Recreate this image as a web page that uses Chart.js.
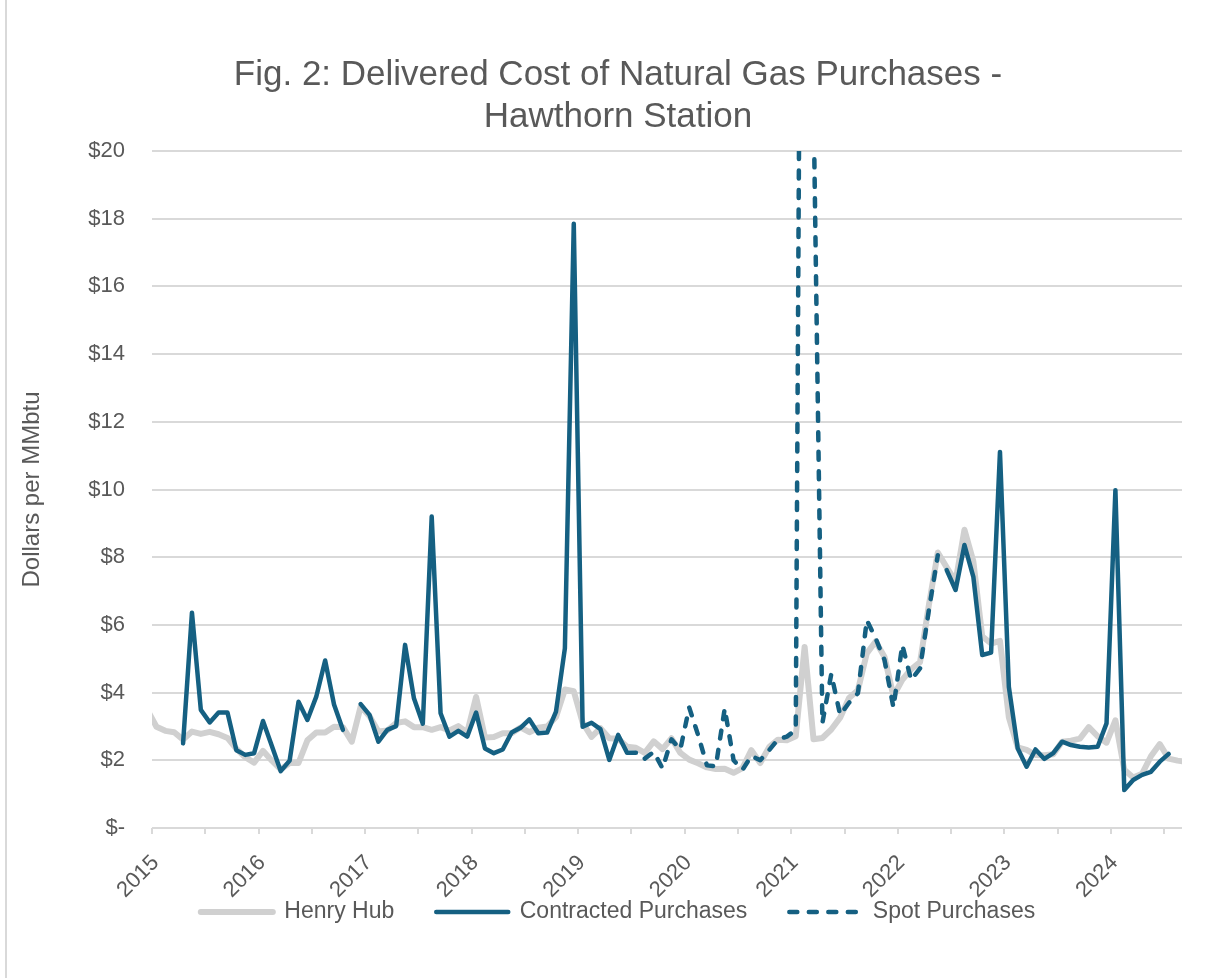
<!DOCTYPE html>
<html>
<head>
<meta charset="utf-8">
<title>Fig. 2: Delivered Cost of Natural Gas Purchases - Hawthorn Station</title>
<script src="https://cdn.jsdelivr.net/npm/chart.js@4.4.1/dist/chart.umd.min.js"></script>
<style>
    html, body { margin: 0; padding: 0; background: #fff; }
    #frame { position: relative; width: 1220px; height: 978px; }
    #frame::before { content: ''; position: absolute; left: 5px; top: 0; bottom: 0; border-left: 2px solid #d9d9d9; }
    canvas { display: block; }
</style>
</head>
<body>
<div id="frame"><canvas id="gasChart" width="1220" height="978"></canvas></div>
<script>
// ---- data, $/MMbtu, one value per month ----

const yearLabels = ['2015', '2016', '2017', '2018', '2019', '2020', '2021', '2022', '2023', '2024'];
const axisStart = '2015-01';
const axisEnd = '2024-09';

const henryHubFrom = '2014-12';
const henryHub = [
    3.48,
    2.99, 2.87, 2.83, 2.61, 2.85, 2.78, 2.84, 2.77, 2.66, 2.34, 2.09, 1.93, // 2015
    2.28, 1.99, 1.73, 1.92, 1.92, 2.59, 2.82, 2.82, 2.99, 2.98, 2.55, 3.59, // 2016
    3.30, 2.85, 2.88, 3.10, 3.15, 2.98, 2.98, 2.90, 2.98, 2.88, 3.01, 2.82, // 2017
    3.87, 2.67, 2.69, 2.80, 2.80, 2.97, 2.83, 2.96, 3.00, 3.28, 4.09, 4.04, // 2018
    3.11, 2.69, 2.95, 2.65, 2.64, 2.40, 2.37, 2.22, 2.56, 2.33, 2.65, 2.22, // 2019
    2.02, 1.91, 1.79, 1.74, 1.75, 1.63, 1.77, 2.30, 1.92, 2.39, 2.61, 2.59, // 2020
    2.71, 5.35, 2.62, 2.66, 2.91, 3.26, 3.84, 4.07, 5.16, 5.51, 5.05, 3.90, // 2021
    4.38, 4.69, 4.90, 6.60, 8.14, 7.70, 7.28, 8.81, 7.88, 5.66, 5.45, 5.53, // 2022
    3.27, 2.38, 2.31, 2.16, 2.15, 2.18, 2.55, 2.58, 2.64, 2.98, 2.71, 2.52, // 2023
    3.18, 1.72, 1.49, 1.60, 2.12, 2.48, 2.05, 1.99, 1.95                    // 2024
];

const contractedFrom = '2015-04';
const contracted = [
    2.50, 6.36, 3.49, 3.12, 3.41, 3.41, 2.30, 2.16, 2.21,                   // 2015
    3.16, 2.42, 1.68, 1.99, 3.73, 3.19, 3.88, 4.95, 3.65, 2.90, null, 3.66, // 2016
    3.34, 2.55, 2.90, 3.01, 5.41, 3.83, 3.08, 9.20, 3.39, 2.70, 2.87, 2.70, // 2017
    3.41, 2.35, 2.21, 2.32, 2.82, 2.96, 3.21, 2.80, 2.82, 3.44, 5.31, 17.85, // 2018
    2.99, 3.11, 2.92, 2.01, 2.75, 2.22, 2.22, null, null, null, null, null, // 2019
    null, null, null, null, null, null, null, null, null, null, null, null, // 2020
    null, null, null, null, null, null, null, null, null, null, null, null, // 2021
    null, null, null, null, null, 7.62, 7.03, 8.36, 7.42, 5.11, 5.18, 11.11, // 2022
    4.17, 2.35, 1.81, 2.32, 2.04, 2.21, 2.55, 2.45, 2.40, 2.38, 2.40, 3.09, // 2023
    9.98, 1.12, 1.42, 1.57, 1.66, 1.96, 2.19                                // 2024
];

const spotFrom = '2019-08';
const spot = [
    2.05, 2.25, 1.76, 2.62, 2.32,                                           // 2019
    3.56, 2.75, 1.85, 1.82, 3.53, 2.00, 1.72, 2.13, 2.00, 2.30, 2.62, 2.70, // 2020
    2.90, 50.0, 21.5, 3.10, 4.55, 3.34, 3.70, 3.98, 6.14, 5.60, 4.96, 3.56, // 2021
    5.41, 4.37, 4.72, 6.45, 8.06                                            // 2022
];

// ---- look ----

const FONT = "'Liberation Sans', Arial, sans-serif";
const TEXT = '#595959';
const GRID = '#d9d9d9';
const BLUE = '#156082';
const LABEL_SHIFT = 0.4;    // year labels sit a little right of their tick mark
const LEGEND_PADDING = 42;
const LEGEND_FONT = 23;
const LEGEND_TEXT_Y = 912;

function monthIndex(ym) {
    const [y, m] = ym.split('-').map(Number);
    return (y - 2015) * 12 + (m - 1);
}

// every monthly value is plotted in the middle of its month
function toPoints(values, from) {
    const first = monthIndex(from);
    return values.map((v, i) => ({ x: first + i + 0.5, y: v }));
}

// the year labels need a tall axis box (labels are clipped to it),
// so the legend is pulled back up over the bottom of that box
const legendPlacement = {
    id: 'legendPlacement',
    afterLayout(chart) {
        const legend = chart.legend;
        const height = legend.bottom - legend.top;
        legend.top = LEGEND_TEXT_Y - LEGEND_PADDING - LEGEND_FONT / 2;
        legend.bottom = legend.top + height;
    }
};

/**
 * Draws the delivered cost chart into the canvas.
 */
function renderGasChart() {
    const xMin = monthIndex(axisStart);
    const xMax = monthIndex(axisEnd);

    new Chart(document.getElementById('gasChart'), {
        type: 'line',
        data: {
            datasets: [
                {
                    label: 'Henry Hub',
                    data: toPoints(henryHub, henryHubFrom),
                    borderColor: '#d0d0d0',
                    backgroundColor: '#d0d0d0',
                    borderWidth: 6,
                    order: 1
                },
                {
                    label: 'Contracted Purchases',
                    data: toPoints(contracted, contractedFrom),
                    borderColor: BLUE,
                    backgroundColor: BLUE,
                    borderWidth: 4.5,
                    order: 0
                },
                {
                    label: 'Spot Purchases',
                    data: toPoints(spot, spotFrom),
                    borderColor: BLUE,
                    backgroundColor: BLUE,
                    borderWidth: 4.5,
                    borderDash: [8, 11.5],
                    order: 0
                }
            ]
        },
        plugins: [legendPlacement],
        options: {
            responsive: false,
            animation: false,
            layout: { padding: { left: 54, right: 38, top: 0, bottom: 3 } },
            elements: {
                point: { radius: 0, hoverRadius: 0 },
                line: { tension: 0, borderJoinStyle: 'round', borderCapStyle: 'round' }
            },
            datasets: {
                line: { clip: 0, xAxisID: 'x', yAxisID: 'y', spanGaps: false }
            },
            plugins: {
                title: {
                    display: true,
                    text: ['Fig. 2: Delivered Cost of Natural Gas Purchases -', 'Hawthorn Station'],
                    color: TEXT,
                    font: { family: FONT, size: 35, weight: 'normal', lineHeight: 1.2 },
                    padding: { top: 54, bottom: 13 }
                },
                legend: {
                    position: 'bottom',
                    labels: {
                        usePointStyle: true,
                        pointStyle: 'line',
                        pointStyleWidth: 72,
                        padding: LEGEND_PADDING,
                        color: TEXT,
                        font: { family: FONT, size: LEGEND_FONT },
                        sort: (a, b) => a.datasetIndex - b.datasetIndex,
                        // point style hides the dash pattern, put it back from the dataset
                        generateLabels: chart => {
                            const items = Chart.defaults.plugins.legend.labels.generateLabels(chart);
                            return items.map(item => {
                                const ds = chart.data.datasets[item.datasetIndex];
                                item.lineDash = ds.borderDash || [];
                                item.lineCap = 'round';
                                item.lineWidth = ds.borderWidth;
                                return item;
                            });
                        }
                    }
                },
                tooltip: { enabled: false }
            },
            scales: {
                // tick marks every six months, no labels
                x: {
                    type: 'linear',
                    position: 'bottom',
                    min: xMin,
                    max: xMax,
                    weight: 0,
                    afterBuildTicks: scale => {
                        const ticks = [];
                        for (let v = xMin; v < xMax; v += 6) {
                            ticks.push({ value: v });
                        }
                        scale.ticks = ticks;
                    },
                    ticks: { display: false, autoSkip: false },
                    grid: { drawOnChartArea: false, drawTicks: true, tickLength: 6, color: GRID, lineWidth: 2 },
                    border: { display: false },
                    afterFit: scale => { scale.height = 8; }
                },
                // year labels
                xLabels: {
                    type: 'linear',
                    position: 'bottom',
                    min: xMin,
                    max: xMax,
                    weight: 1,
                    afterBuildTicks: scale => {
                        scale.ticks = yearLabels.map((_, i) => ({ value: i * 12 + LABEL_SHIFT }));
                    },
                    ticks: {
                        autoSkip: false,
                        maxRotation: 45,
                        minRotation: 45,
                        padding: 14,
                        color: TEXT,
                        font: { family: FONT, size: 22 },
                        callback: (value, index) => yearLabels[index]
                    },
                    grid: { display: false, drawTicks: false },
                    border: { display: false },
                    afterFit: scale => { scale.height = 64; }
                },
                y: {
                    min: 0,
                    max: 20,
                    ticks: {
                        stepSize: 2,
                        padding: 27,
                        color: TEXT,
                        font: { family: FONT, size: 22 },
                        callback: v => (v === 0 ? '$-' : '$' + v)
                    },
                    grid: { color: GRID, lineWidth: 2, drawTicks: false },
                    border: { display: false },
                    title: {
                        display: true,
                        text: 'Dollars per MMbtu',
                        color: TEXT,
                        font: { family: FONT, size: 24 },
                        padding: { top: -36.4, bottom: 0 }
                    },
                    afterFit: scale => { scale.width = 98; }
                }
            }
        }
    });
}

renderGasChart();
</script>
</body>
</html>
